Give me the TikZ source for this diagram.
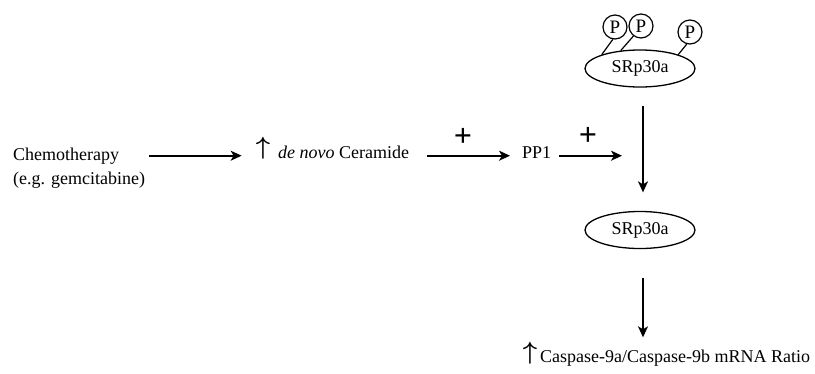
\documentclass[tikz,border=0pt]{standalone}
\usepackage{fontspec}
\setmainfont{Liberation Serif}
\usetikzlibrary{arrows.meta,shapes.geometric}
\begin{document}
\begin{tikzpicture}[x=1pt,y=-1pt,
  txt/.style={inner sep=0pt,font=\fontsize{18}{24}\selectfont},
  uparr/.style={inner sep=0pt,font=\fontsize{26}{26}\selectfont\boldmath},
  plus/.style={inner sep=0pt,font=\fontsize{32}{32}\selectfont\bfseries},
  arr/.style={line width=1.6pt,-{Stealth[length=11pt,width=10pt,inset=3pt]}},
  ell/.style={draw,line width=1.3pt,ellipse,minimum width=110pt,minimum height=37pt,inner sep=0pt,font=\fontsize{18}{23}\selectfont},
  pc/.style={draw,line width=1.2pt,circle,fill=white,minimum size=24pt,inner sep=0pt,font=\fontsize{19}{23}\selectfont},
  lnk/.style={line width=1.2pt}]
\useasboundingbox (0,0) rectangle (815,373);
% left row
\node[txt,anchor=west,align=left] (chemo) at (13,168) {Chemotherapy\\(e.g. gemcitabine)};
\node[uparr] (up1) at (263,148.5) {$\uparrow$};
\node[txt,anchor=base west] (cer) at (278,158) {\textit{de novo} Ceramide};
\node[txt,anchor=base west] (pp1) at (522,158) {PP1};
\node[plus] (plus1) at (463,137) {+};
\node[plus] (plus2) at (588,136) {+};
\coordinate (tip3) at (622,153);
% SRp30a phosphorylated
\node[ell] (srp1) at (640,68.5) {SRp30a};
\node[pc] (p2) at (641,26) {P};
\node[pc] (p1) at (615,27) {P};
\node[pc] (p3) at (690,32) {P};
\draw[lnk] (p1.-100) -- (srp1.160);
\draw[lnk] (p2.-127) -- (srp1.137);
\draw[lnk] (p3.-105) -- (srp1.20);
% SRp30a dephosphorylated
\node[ell] (srp2) at (640,230) {SRp30a};
% caspase
\node[uparr] (up2) at (530,353.5) {$\uparrow$};
\node[txt,anchor=base west] (casp) at (540,362) {Caspase-9a/Caspase-9b mRNA Ratio};
% arrows
\draw[arr,shorten <=4pt,shorten >=14pt] (chemo.east |- cer.mid) -- (up1.west |- cer.mid);
\draw[arr,shorten <=18pt,shorten >=12pt] (cer.east |- cer.mid) -- (pp1.west |- cer.mid);
\draw[arr,shorten <=8pt] (pp1.east |- cer.mid) -- (tip3 |- cer.mid);
\draw[arr,shorten <=18pt,shorten >=18.5pt] ([xshift=3pt]srp1.south) -- ([xshift=3pt]srp2.north);
\draw[arr,shorten <=28.5pt,shorten >=12pt] ([xshift=3pt]srp2.south) -- ([xshift=3pt]srp2.south |- casp.north);
\end{tikzpicture}
\end{document}
